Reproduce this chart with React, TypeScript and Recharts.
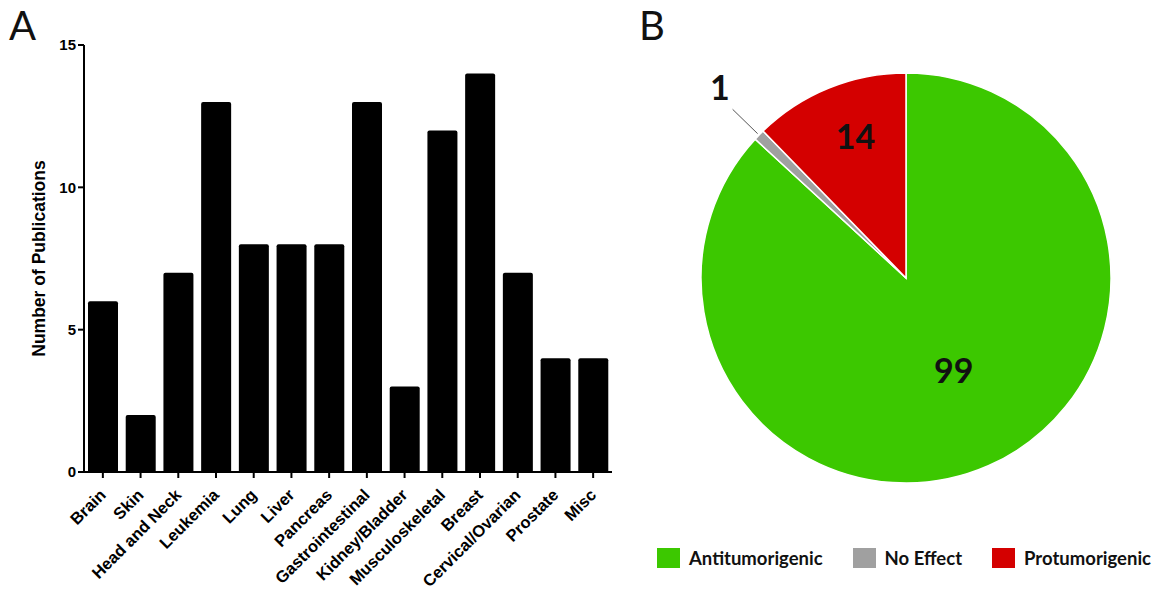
import React from 'react';
import { BarChart, Bar, XAxis, YAxis, PieChart, Pie, Cell, Legend } from 'recharts';

const categories = ['Brain', 'Skin', 'Head and Neck', 'Leukemia', 'Lung', 'Liver', 'Pancreas', 'Gastrointestinal', 'Kidney/Bladder', 'Musculoskeletal', 'Breast', 'Cervical/Ovarian', 'Prostate', 'Misc'];
const publications = [6, 2, 7, 13, 8, 8, 8, 13, 3, 12, 14, 7, 4, 4];
const yTicks = [0, 5, 10, 15];

const effectNames = ['Antitumorigenic', 'No Effect', 'Protumorigenic'];
const effectValues = [99, 1, 14];
const effectColors = ['#3cc800', '#a0a0a0', '#d40000'];

const barData = categories.map((c, i) => ({ name: c, value: publications[i] }));
const pieData = effectNames.map((n, i) => ({ name: n, value: effectValues[i], color: effectColors[i] }));

const AXIS_FONT = '"Liberation Sans", Arial, sans-serif';
const PIE_FONT = 'Lato, "Open Sans", sans-serif';
const RAD = Math.PI / 180;

const XTick = (props: any) => {
  const { x, y, payload } = props;
  return (
    <g transform={`translate(${x + 4},${y + 16})`}>
      <text
        x={0}
        y={0}
        textAnchor="end"
        transform="rotate(-45)"
        fontFamily={AXIS_FONT}
        fontWeight="bold"
        fontSize={16.5}
        fill="#000"
      >
        {payload.value}
      </text>
    </g>
  );
};

const YLabel = (props: any) => {
  const vb = props.viewBox || {};
  const cx = (vb.x || 0) + 39;
  const cy = (vb.y || 0) + (vb.height || 0) / 2;
  return (
    <text
      x={cx}
      y={cy}
      transform={`rotate(-90, ${cx}, ${cy})`}
      textAnchor="middle"
      dominantBaseline="central"
      fontFamily={AXIS_FONT}
      fontWeight="bold"
      fontSize={17.5}
      fill="#000"
    >
      Number of  Publications
    </text>
  );
};

const labelRadius = [0.52, 1.3, 0.72];

const PieLabel = (props: any) => {
  const { cx, cy, midAngle, outerRadius, index, value } = props;
  const f = labelRadius[index];
  const r = outerRadius * f;
  const x = cx + Math.cos(-midAngle * RAD) * r + 5;
  const y = cy + Math.sin(-midAngle * RAD) * r - 6;
  const outside = f > 1;
  return (
    <g>
      {outside && (
        <line
          x1={cx + Math.cos(-midAngle * RAD) * (outerRadius + 2)}
          y1={cy + Math.sin(-midAngle * RAD) * (outerRadius + 2)}
          x2={cx + Math.cos(-midAngle * RAD) * (outerRadius * 1.18)}
          y2={cy + Math.sin(-midAngle * RAD) * (outerRadius * 1.18)}
          stroke="#555"
          strokeWidth={1}
        />
      )}
      <text
        x={x}
        y={y}
        textAnchor="middle"
        dominantBaseline="central"
        fontFamily={PIE_FONT}
        fontWeight="bold"
        fontSize={34}
        fill="#111"
      >
        {value}
      </text>
    </g>
  );
};

const LegendContent = () => (
  <div style={{ display: 'flex', alignItems: 'center', fontFamily: PIE_FONT, fontWeight: 'bold', fontSize: 18.5, color: '#111', whiteSpace: 'nowrap' }}>
    {pieData.map((d) => (
      <div key={d.name} style={{ display: 'flex', alignItems: 'center', marginRight: 30 }}>
        <div style={{ width: 23, height: 20, background: d.color, marginRight: 9 }} />
        <span>{d.name}</span>
      </div>
    ))}
  </div>
);

export default function App() {
  return (
    <div style={{ position: 'absolute', left: 0, top: 0, width: 1168, height: 598, background: '#fff', overflow: 'hidden' }}>
      <div style={{ position: 'absolute', left: 9, top: 0, fontFamily: PIE_FONT, fontSize: 40, lineHeight: '50px', color: '#111' }}>A</div>
      <div style={{ position: 'absolute', left: 639, top: 0, fontFamily: PIE_FONT, fontSize: 40, lineHeight: '50px', color: '#111' }}>B</div>
      <div style={{ position: 'absolute', left: 0, top: 0 }}>
        <BarChart width={640} height={598} data={barData} margin={{ top: 45, right: 28, left: 0, bottom: 26 }} barSize={30}>
          <XAxis
            dataKey="name"
            interval={0}
            height={100}
            tick={<XTick />}
            tickSize={6}
            axisLine={{ stroke: '#000', strokeWidth: 2 }}
            tickLine={{ stroke: '#000', strokeWidth: 2 }}
          />
          <YAxis
            width={84}
            domain={[0, 15]}
            ticks={yTicks}
            tickSize={6}
            tick={{ fontFamily: AXIS_FONT, fontWeight: 'bold', fontSize: 15, fill: '#000' }}
            axisLine={{ stroke: '#000', strokeWidth: 2 }}
            tickLine={{ stroke: '#000', strokeWidth: 2 }}
            label={<YLabel />}
          />
          <Bar dataKey="value" fill="#000" radius={[2, 2, 0, 0]} isAnimationActive={false} />
        </BarChart>
      </div>
      <div style={{ position: 'absolute', left: 640, top: 0 }}>
        <PieChart width={528} height={598}>
          <Pie
            data={pieData}
            dataKey="value"
            nameKey="name"
            cx={261}
            cy={273}
            outerRadius={205}
            startAngle={90}
            endAngle={-270}
            stroke="#fff"
            strokeWidth={1.5}
            label={PieLabel}
            labelLine={false}
            isAnimationActive={false}
          >
            {pieData.map((d) => (
              <Cell key={d.name} fill={d.color} />
            ))}
          </Pie>
          <Legend content={<LegendContent />} wrapperStyle={{ position: 'absolute', left: 17, top: 547, width: 520, height: 22 }} />
        </PieChart>
      </div>
    </div>
  );
}
